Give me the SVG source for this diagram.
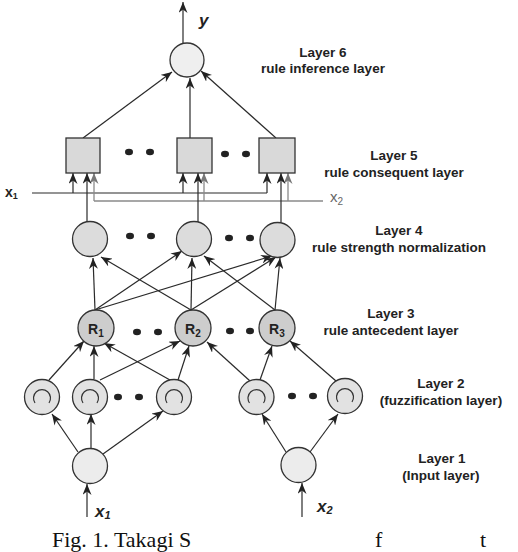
<svg xmlns="http://www.w3.org/2000/svg" width="518" height="552" viewBox="0 0 518 552">
<style>
.n{stroke:#333;stroke-width:1.3}
.l6{fill:#efefef}.l5{fill:#d9d9d9}.l4{fill:#dcdcdc}.l3{fill:#cdcdcd}.l2{fill:#e2e2e2}.l1{fill:#ececec}
.c{stroke:#2a2a2a;stroke-width:1.2;fill:none}
.g{stroke:#8a8a8a;stroke-width:1.3;fill:none}
.a{marker-end:url(#ah)}
.ag{marker-end:url(#ahg)}
.lbl{font-family:"Liberation Sans",Arial,sans-serif;font-weight:bold;font-size:13.5px;fill:#222;text-anchor:middle}
.io{font-family:"Liberation Sans",Arial,sans-serif;font-weight:bold;font-style:italic;font-size:17px;fill:#222}
.rl{font-family:"Liberation Sans",Arial,sans-serif;font-weight:bold;font-size:14px;fill:#222}
.dot{fill:#222}
.mf{fill:none;stroke:#333;stroke-width:1.2}
</style>
<defs>
<marker id="ah" markerWidth="11" markerHeight="9" refX="11" refY="4.5" orient="auto" markerUnits="userSpaceOnUse"><path d="M0,0 L11,4.5 L0,9 L3.5,4.5 z" fill="#222"/></marker>
<marker id="ahg" markerWidth="11" markerHeight="9" refX="11" refY="4.5" orient="auto" markerUnits="userSpaceOnUse"><path d="M0,0 L11,4.5 L0,9 L3.5,4.5 z" fill="#777"/></marker>
</defs>
<rect width="518" height="552" fill="#fff"/>

<g id="connectors">
<line class="c a" x1="183" y1="44" x2="183" y2="2"/>
<line class="c a" x1="83" y1="138" x2="172" y2="72"/>
<line class="c a" x1="190" y1="138" x2="190" y2="78"/>
<line class="c a" x1="276" y1="138" x2="201" y2="71"/>
<line class="c" x1="32" y1="193" x2="267" y2="193"/>
<line class="c a" x1="73" y1="193" x2="73" y2="173"/>
<line class="c a" x1="183" y1="193" x2="183" y2="173"/>
<line class="c a" x1="267" y1="193" x2="267" y2="173"/>
<line class="g" x1="94" y1="201" x2="323" y2="201"/>
<line class="g ag" x1="94" y1="201" x2="94" y2="173"/>
<line class="g ag" x1="204" y1="201" x2="204" y2="173"/>
<line class="g ag" x1="288" y1="201" x2="288" y2="173"/>
<line class="c a" x1="87" y1="222" x2="87" y2="173"/>
<line class="c a" x1="198" y1="222" x2="198" y2="173"/>
<line class="c a" x1="281" y1="222" x2="281" y2="173"/>
<line class="c a" x1="95" y1="310" x2="93" y2="258"/>
<line class="c a" x1="95" y1="310" x2="182" y2="251"/>
<line class="c a" x1="95" y1="310" x2="272" y2="256"/>
<line class="c a" x1="191" y1="310" x2="101" y2="257"/>
<line class="c a" x1="191" y1="310" x2="192" y2="258"/>
<line class="c a" x1="191" y1="310" x2="276" y2="257"/>
<line class="c a" x1="275" y1="310" x2="280" y2="258"/>
<line class="c a" x1="275" y1="310" x2="204" y2="256"/>
<line class="c a" x1="49" y1="380" x2="84" y2="341"/>
<line class="c a" x1="94" y1="379" x2="94" y2="346"/>
<line class="c a" x1="100" y1="380" x2="180" y2="341"/>
<line class="c a" x1="170" y1="380" x2="104" y2="343"/>
<line class="c a" x1="178" y1="380" x2="189" y2="346"/>
<line class="c a" x1="250" y1="381" x2="207" y2="342"/>
<line class="c a" x1="260" y1="380" x2="272" y2="346"/>
<line class="c a" x1="336" y1="381" x2="290" y2="341"/>
<line class="c a" x1="78" y1="452" x2="52" y2="414"/>
<line class="c a" x1="91" y1="448" x2="91" y2="414"/>
<line class="c a" x1="103" y1="454" x2="163" y2="411"/>
<line class="c a" x1="286" y1="452" x2="262" y2="414"/>
<line class="c a" x1="310" y1="452" x2="338" y2="414"/>
<line class="c a" x1="87" y1="517" x2="87" y2="484"/>
<line class="c a" x1="302" y1="517" x2="302" y2="483"/>
</g>

<g id="layer6">
<circle class="n l6" cx="187" cy="60" r="17"/>
</g>
<text class="io" x="199" y="26">y</text>

<g id="layer5">
<rect class="n l5" x="66" y="138" width="34" height="35"/>
<rect class="n l5" x="177" y="138" width="35" height="35"/>
<rect class="n l5" x="259" y="138" width="36" height="35"/>
<ellipse class="dot" cx="129" cy="152" rx="4" ry="3.3"/>
<ellipse class="dot" cx="150" cy="152" rx="4" ry="3.3"/>
<ellipse class="dot" cx="225" cy="154" rx="4" ry="3.3"/>
<ellipse class="dot" cx="246" cy="154" rx="4" ry="3.3"/>
</g>

<g id="x-labels">
<text font-family="Liberation Sans, Arial, sans-serif" font-weight="bold" font-size="14" fill="#222" x="5" y="197">x<tspan font-size="9" dy="2">1</tspan></text>
<text font-family="Liberation Sans, Arial, sans-serif" font-size="15" fill="#666" x="330" y="202">x<tspan font-size="10" dy="3">2</tspan></text>
</g>

<g id="layer4">
<circle class="n l4" cx="90" cy="239" r="17.5"/>
<circle class="n l4" cx="194" cy="239" r="17.5"/>
<circle class="n l4" cx="277.5" cy="240" r="17.5"/>
<ellipse class="dot" cx="130" cy="236" rx="4" ry="3.3"/>
<ellipse class="dot" cx="151" cy="236" rx="4" ry="3.3"/>
<ellipse class="dot" cx="229" cy="238" rx="4" ry="3.3"/>
<ellipse class="dot" cx="250" cy="238" rx="4" ry="3.3"/>
</g>

<g id="layer3">
<g id="R1"><circle class="n l3" cx="96" cy="328" r="18"/><text class="rl" x="88" y="334">R<tspan font-size="10" dy="3">1</tspan></text></g>
<g id="R2"><circle class="n l3" cx="193" cy="328" r="18"/><text class="rl" x="185" y="334">R<tspan font-size="10" dy="3">2</tspan></text></g>
<g id="R3"><circle class="n l3" cx="277" cy="328" r="18"/><text class="rl" x="269" y="334">R<tspan font-size="10" dy="3">3</tspan></text></g>
<ellipse class="dot" cx="137" cy="332" rx="4" ry="3.3"/>
<ellipse class="dot" cx="158" cy="332" rx="4" ry="3.3"/>
<ellipse class="dot" cx="230" cy="331" rx="4" ry="3.3"/>
<ellipse class="dot" cx="250" cy="331" rx="4" ry="3.3"/>
</g>

<g id="layer2">
<g id="A"><circle class="n l2" cx="42" cy="397" r="17.5"/><path class="mf" d="M35,403 A8.5,8.5 0 1 1 49,403"/></g>
<g id="B"><circle class="n l2" cx="90" cy="397" r="17.5"/><path class="mf" d="M83,403 A8.5,8.5 0 1 1 97,403"/></g>
<g id="C"><circle class="n l2" cx="174" cy="397" r="17.5"/><path class="mf" d="M167,403 A8.5,8.5 0 1 1 181,403"/></g>
<g id="D"><circle class="n l2" cx="256.5" cy="397" r="17.5"/><path class="mf" d="M249.5,403 A8.5,8.5 0 1 1 263.5,403"/></g>
<g id="E"><circle class="n l2" cx="345" cy="396" r="17.5"/><path class="mf" d="M338,402 A8.5,8.5 0 1 1 352,402"/></g>
<ellipse class="dot" cx="118" cy="397" rx="4" ry="3.3"/>
<ellipse class="dot" cx="139" cy="397" rx="4" ry="3.3"/>
<ellipse class="dot" cx="292" cy="396" rx="4" ry="3.3"/>
<ellipse class="dot" cx="313" cy="396" rx="4" ry="3.3"/>
</g>

<g id="layer1">
<circle class="n l1" cx="90" cy="466" r="17.5"/>
<circle class="n l1" cx="298.5" cy="465" r="17.5"/>
</g>
<text class="io" x="95" y="517">x<tspan font-size="11" dy="2">1</tspan></text>
<text class="io" x="317" y="512">x<tspan font-size="11" dy="2">2</tspan></text>

<g id="labels">
<text class="lbl" x="323" y="57">Layer 6</text>
<text class="lbl" x="323" y="73">rule inference layer</text>
<text class="lbl" x="394" y="160">Layer 5</text>
<text class="lbl" x="394" y="177">rule consequent layer</text>
<text class="lbl" x="399" y="235">Layer 4</text>
<text class="lbl" x="399" y="252">rule strength normalization</text>
<text class="lbl" x="391" y="318">Layer 3</text>
<text class="lbl" x="391" y="335">rule antecedent layer</text>
<text class="lbl" x="441" y="388">Layer 2</text>
<text class="lbl" x="441" y="405">(fuzzification layer)</text>
<text class="lbl" x="442" y="463">Layer 1</text>
<text class="lbl" x="441" y="480">(Input layer)</text>
</g>

<g id="caption">
<text font-family="Liberation Serif, Times New Roman, serif" font-size="22" fill="#111" y="547"><tspan x="52">Fig. 1. Takagi S</tspan><tspan x="375">f</tspan><tspan x="480">t</tspan></text>
</g>
</svg>
